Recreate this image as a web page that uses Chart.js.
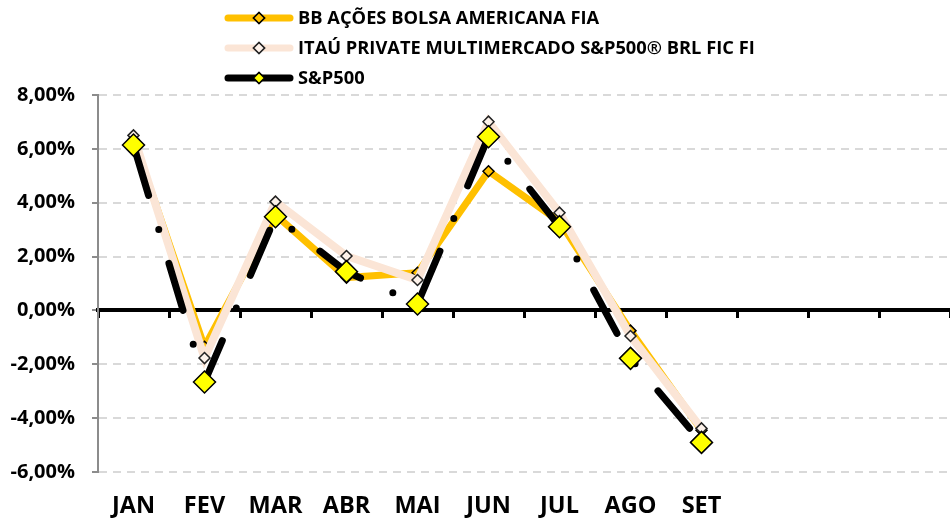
<!DOCTYPE html>
<html>
<head>
<meta charset="utf-8">
<script src="https://cdn.jsdelivr.net/npm/chart.js@4/dist/chart.umd.min.js"></script>
<style>
  html, body { margin: 0; padding: 0; background: #fff; overflow: hidden; }
  #wrap { position: relative; width: 950px; height: 518px; }
  #grafico { display: block; }
</style>
</head>
<body>
<div id="wrap"><canvas id="grafico"></canvas></div>
<script>
// meses (so ate SET tem dados, OUT/NOV/DEZ ficam em branco)
const meses = ['JAN', 'FEV', 'MAR', 'ABR', 'MAI', 'JUN', 'JUL', 'AGO', 'SET', '', '', ''];
const nomes = ['BB AÇÕES BOLSA AMERICANA FIA', 'ITAÚ PRIVATE MULTIMERCADO S&P500® BRL FIC FI', 'S&P500'];
// rentabilidade mensal em %
const bbAcoes = [6.35, -1.35, 3.55, 1.22, 1.4, 5.17, 3.3, -0.75, -4.45, null, null, null];
const itauPrivate = [6.5, -1.77, 4.04, 2.02, 1.13, 7.01, 3.63, -0.95, -4.38, null, null, null];
const sp500 = [6.14, -2.66, 3.48, 1.44, 0.24, 6.45, 3.11, -1.78, -4.9, null, null, null];
const yTicks = [-6, -4, -2, 0, 2, 4, 6, 8];

const FONTE = "'Open Sans', 'Liberation Sans', sans-serif";

//formata no estilo 8,00%
function formatPct(v){
    return v.toFixed(2).replace('.', ',') + '%';
}

//legenda desenhada a mao: linha + marcador, um item por linha
const legendaPlugin = {
    id: 'legendaLinhas',
    afterDraw(chart){
        const ctx = chart.ctx;
        const estilos = [
            { cor: '#FFC000', fill: '#FFC000', borda: '#000' },
            { cor: '#FBE5D6', fill: '#FDF2EA', borda: '#222' },
            { cor: '#000000', fill: '#FFFF00', borda: '#000' }
        ];
        ctx.save();
        nomes.forEach((nome, i) => {
            const y = 18 + i * 30;
            const e = estilos[i];
            ctx.strokeStyle = e.cor;
            ctx.lineWidth = 7;
            ctx.lineCap = 'round';
            ctx.beginPath();
            ctx.moveTo(228, y);
            ctx.lineTo(290, y);
            ctx.stroke();
            ctx.fillStyle = e.fill;
            ctx.strokeStyle = e.borda;
            ctx.lineWidth = 1.5;
            Chart.helpers.drawPoint(ctx, { pointStyle: 'rectRot', radius: 5.5, borderWidth: 1.5 }, 259, y);
            ctx.fill();
            ctx.stroke();
            ctx.fillStyle = '#000';
            ctx.font = 'bold 18.3px ' + FONTE;
            ctx.textAlign = 'left';
            ctx.textBaseline = 'middle';
            ctx.fillText(nome, 298, y + 1);
        });
        ctx.restore();
    }
};

//tira o espaco extra que o chart.js reserva nas pontas do eixo x
function semPadding(scale){
    scale.paddingLeft = 0;
    scale.paddingRight = 0;
}

const ctx = document.getElementById('grafico').getContext('2d');
new Chart(ctx, {
    type: 'line',
    data: {
        labels: meses,
        datasets: [
            {
                label: nomes[0],
                data: bbAcoes,
                borderColor: '#FFC000',
                borderWidth: 7,
                pointStyle: 'rectRot',
                pointRadius: 5.5,
                pointBackgroundColor: '#FFC000',
                pointBorderColor: '#000',
                pointBorderWidth: 1.5,
                order: 2
            },
            {
                label: nomes[1],
                data: itauPrivate,
                borderColor: '#FBE5D6',
                borderWidth: 8,
                pointStyle: 'rectRot',
                pointRadius: 5.5,
                pointBackgroundColor: '#FDF2EA',
                pointBorderColor: '#222',
                pointBorderWidth: 1.5,
                order: 1
            },
            {
                label: nomes[2],
                data: sp500,
                borderColor: '#000',
                borderWidth: 7,
                borderCapStyle: 'round',
                //traço longo + ponto, continuo ao longo da linha toda
                borderDash: [49, 35.5, 0, 35.5],
                borderDashOffset: -3.5,
                pointStyle: 'rectRot',
                pointRadius: 11,
                pointBackgroundColor: '#FFFF00',
                pointBorderColor: '#000',
                pointBorderWidth: 1.5,
                order: 0
            }
        ]
    },
    options: {
        responsive: true,
        maintainAspectRatio: false,
        animation: false,
        layout: { autoPadding: false, padding: { top: 95, right: 0, left: 0, bottom: 0 } },
        plugins: {
            legend: { display: false },
            tooltip: { enabled: false }
        },
        scales: {
            x: {
                offset: true,
                border: { display: false },
                grid: { display: false },
                ticks: {
                    color: '#000',
                    font: { family: FONTE, size: 23.5, weight: 'bold' },
                    padding: 12,
                    maxRotation: 0,
                    autoSkip: false
                },
                afterFit(scale){ scale.height = 46; semPadding(scale); }
            },
            //eixo do zero, grosso e preto com as marcas entre meses
            x2: {
                type: 'category',
                axis: 'x',
                labels: meses,
                position: { y: 0 },
                offset: true,
                border: { display: true, color: '#000', width: 4 },
                grid: {
                    offset: true,
                    drawOnChartArea: false,
                    drawTicks: true,
                    tickLength: 6,
                    tickColor: '#000',
                    tickWidth: 3
                },
                ticks: { display: false },
                afterFit: semPadding
            },
            y: {
                min: -6,
                max: 8,
                afterBuildTicks(scale){ scale.ticks = yTicks.map(v => ({ value: v })); },
                border: { display: true, color: '#8C8C8C', width: 2, dash: [8, 6] },
                grid: {
                    color: '#D9D9D9',
                    lineWidth: 2,
                    tickColor: '#8C8C8C',
                    tickLength: 6,
                    tickBorderDash: [],
                    tickWidth: 2
                },
                ticks: {
                    color: '#000',
                    font: { family: FONTE, size: 20, weight: 'bold' },
                    padding: 17,
                    callback: (v) => formatPct(v)
                },
                afterFit(scale){ scale.width = 98; }
            }
        }
    },
    plugins: [legendaPlugin]
});
</script>
</body>
</html>
